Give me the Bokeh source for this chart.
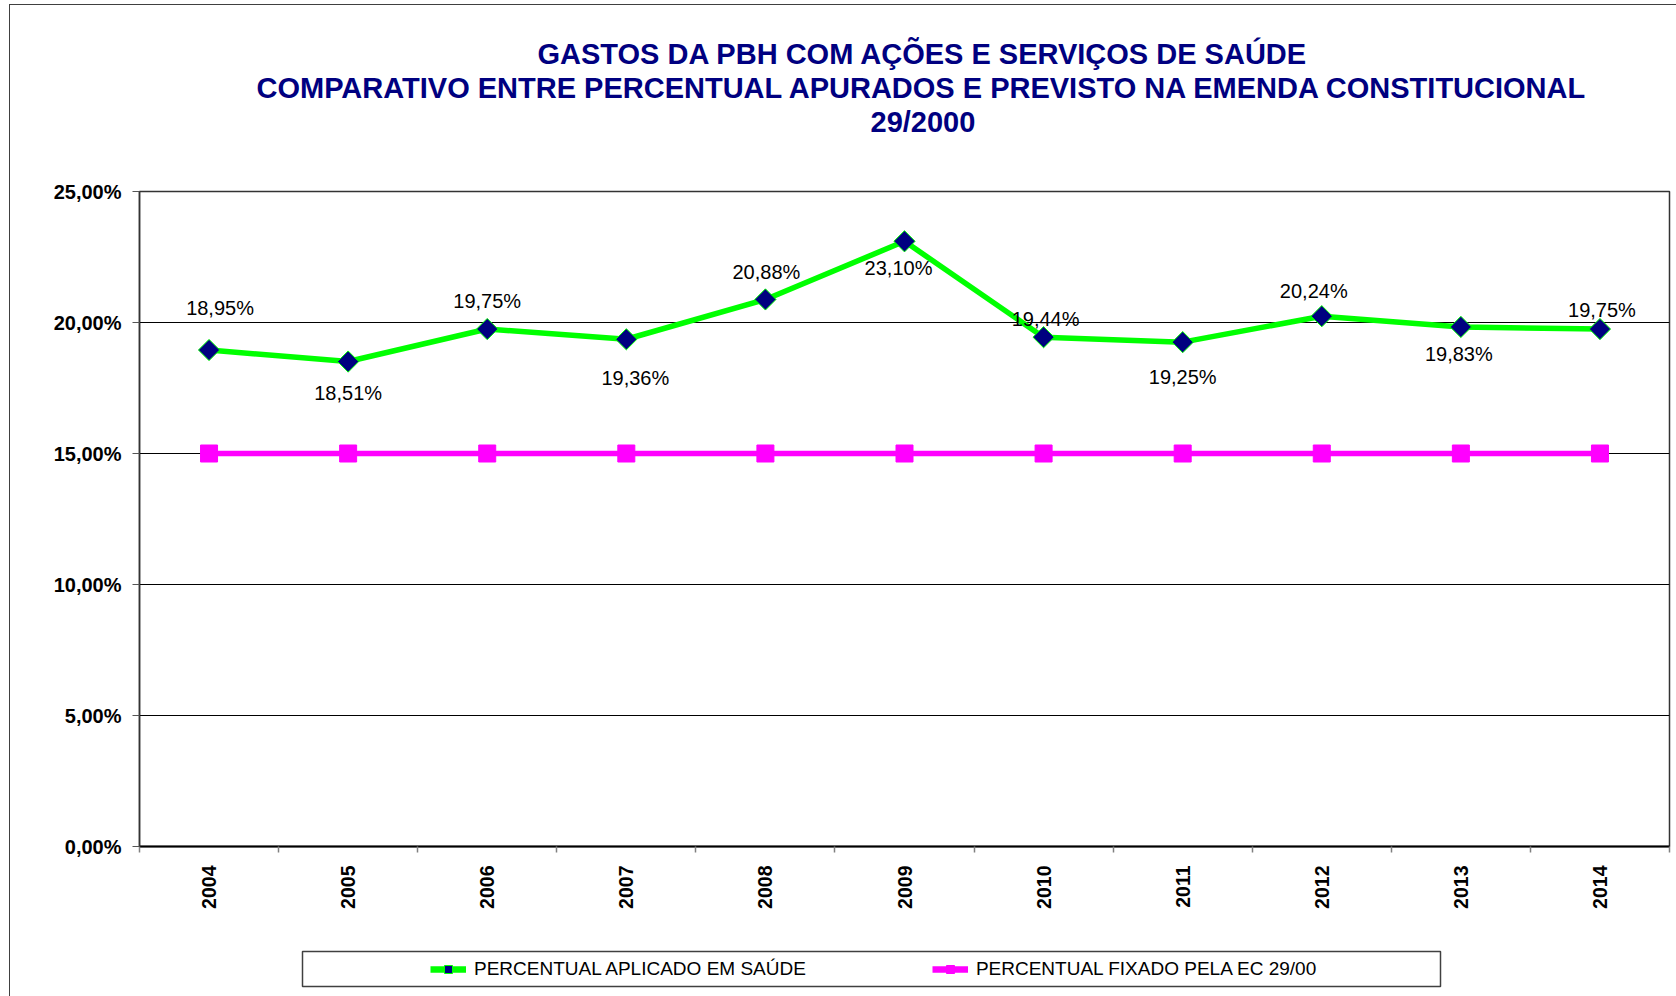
import math
from bokeh.plotting import figure
from bokeh.layouts import column
from bokeh.models import (Range1d, FixedTicker, ColumnDataSource, LabelSet, Legend,
                          LegendItem, Title)
from bokeh.core.properties import value
from bokeh.embed import file_html
from bokeh.resources import INLINE

# ---------------- data ----------------
years = ["2004", "2005", "2006", "2007", "2008", "2009", "2010", "2011", "2012", "2013", "2014"]
aplicado = [18.95, 18.51, 19.75, 19.36, 20.88, 23.10, 19.44, 19.25, 20.24, 19.83, 19.75]
fixado = [15.0, 15.0, 15.0, 15.0, 15.0, 15.0, 15.0, 15.0, 15.0, 15.0, 15.0]
y_ticks = [0, 5, 10, 15, 20, 25]
y_tick_labels = ["0,00%", "5,00%", "10,00%", "15,00%", "20,00%", "25,00%"]
series_names = ["PERCENTUAL APLICADO EM SAÚDE", "PERCENTUAL FIXADO PELA EC 29/00"]
title_lines = [
    "GASTOS DA PBH COM AÇÕES E SERVIÇOS DE SAÚDE",
    "COMPARATIVO ENTRE PERCENTUAL APURADOS E PREVISTO NA EMENDA CONSTITUCIONAL",
    "29/2000",
]

# label placement (pixels, style only)
label_dx = [11, 0, 0, 9, 1, -6, 2, 0, -8, -2, 2]
label_dy = [42, -31, 28, -39, 27, -27, 18, -35, 25, -27, 19]
title_offsets = [398, 117, 731]

FONT = "Liberation Sans"
NAVY = "#000080"
GREEN = "#00FF00"
MAGENTA = "#FF00FF"

# chart-area border sits at page x=10, y=5; everything inside is shifted by it
OX, OY = 10, 5
W = 1676 - OX
H_MAIN = 940 - OY
H_LEG = 56
FRAME_L, FRAME_R = 139, 1669          # page coordinates of the plot frame
FRAME_T, FRAME_B = 191, 846

n = len(years)
xs = [i + 0.5 for i in range(n)]

p = figure(width=W, height=H_MAIN,
           x_range=Range1d(0, n), y_range=Range1d(0, 25),
           output_backend="svg", toolbar_location=None, title=None,
           min_border_left=FRAME_L - OX, min_border_right=1676 - FRAME_R,
           min_border_top=FRAME_T - OY, min_border_bottom=940 - FRAME_B,
           background_fill_color="white", border_fill_color="white")

# ---- titles (closest to frame first) ----
p.add_layout(Title(text="\u00a0", text_font=FONT, text_font_size="28px",
                   text_color="white", standoff=21), "above")
for line, off in reversed(list(zip(title_lines, title_offsets))):
    p.add_layout(Title(text=line, align="left", offset=off, text_font=FONT,
                       text_font_size="29px", text_font_style="bold",
                       text_color=NAVY, standoff=0), "above")

# ---- axes ----
p.outline_line_color = "#333333"
p.outline_line_width = 1.5

p.yaxis.ticker = FixedTicker(ticks=y_ticks)
p.yaxis.major_label_overrides = {t: l for t, l in zip(y_ticks, y_tick_labels)}
p.yaxis.major_label_text_font = FONT
p.yaxis.major_label_text_font_style = "bold"
p.yaxis.major_label_text_font_size = "20px"
p.yaxis.major_label_text_color = "black"
p.yaxis.axis_line_color = "#333333"
p.yaxis.axis_line_width = 1.5
p.yaxis.major_tick_out = 7
p.yaxis.major_tick_in = 0
p.yaxis.major_tick_line_color = "#555555"
p.yaxis.minor_tick_line_color = None
p.yaxis.major_label_standoff = 11

p.xaxis.ticker = FixedTicker(ticks=xs, minor_ticks=list(range(n + 1)))
p.xaxis.major_label_overrides = {x: y for x, y in zip(xs, years)}
p.xaxis.major_label_orientation = math.pi / 2
p.xaxis.major_label_text_font = FONT
p.xaxis.major_label_text_font_style = "bold"
p.xaxis.major_label_text_font_size = "19.5px"
p.xaxis.major_label_text_color = "black"
p.xaxis.axis_line_color = "black"
p.xaxis.axis_line_width = 2
p.xaxis.major_tick_out = 0
p.xaxis.major_tick_in = 0
p.xaxis.minor_tick_out = 6
p.xaxis.minor_tick_in = 0
p.xaxis.minor_tick_line_color = "#808080"
p.xaxis.minor_tick_line_width = 1.5
p.xaxis.major_label_standoff = 13

p.xgrid.visible = False
p.ygrid.grid_line_color = "black"
p.ygrid.grid_line_width = 1

# ---- series ----
src = ColumnDataSource(dict(
    x=xs, y=aplicado,
    lbl=[f"{v:.2f}".replace(".", ",") + "%" for v in aplicado],
    dx=label_dx, dy=label_dy))
fsrc = ColumnDataSource(dict(x=xs, y=fixado))

green_line = dict(line_color=GREEN, line_width=5.5)
green_mark = dict(marker="square", size=15, angle=math.pi / 4,
                  fill_color=NAVY, line_color=GREEN, line_width=1)
mag_line = dict(line_color=MAGENTA, line_width=5.5)
mag_mark = dict(marker="square", size=17, fill_color=MAGENTA, line_color=MAGENTA)

p.line("x", "y", source=fsrc, **mag_line)
p.scatter("x", "y", source=fsrc, **mag_mark)
p.line("x", "y", source=src, **green_line)
p.scatter("x", "y", source=src, **green_mark)

labels = LabelSet(x="x", y="y", text="lbl", x_offset="dx", y_offset="dy", source=src,
                  text_align="center", text_baseline="middle",
                  text_font=value(FONT), text_font_size="20px", text_color="black")
p.add_layout(labels)

# ---------------- legend strip (page pixel coordinates) ----------------
q = figure(width=W, height=H_LEG,
           x_range=Range1d(FRAME_L, FRAME_R), y_range=Range1d(940 + H_LEG, 940),
           output_backend="svg", toolbar_location=None, title=None,
           x_axis_location=None, y_axis_location=None,
           min_border_left=FRAME_L - OX, min_border_right=1676 - FRAME_R,
           min_border_top=0, min_border_bottom=0,
           background_fill_color="white", border_fill_color="white")
q.outline_line_color = None
q.xgrid.visible = False
q.ygrid.visible = False

# legend frame box
q.quad(left=[302], right=[1440], top=[951], bottom=[986],
       fill_color="white", line_color="#404040", line_width=1.5)

# proxy renderers for the legend swatches (kept outside the visible range)
off = dict(x=[-50, -40], y=[-50, -50])
lg1 = q.line(off["x"], off["y"], line_color=GREEN, line_width=6.5)
mk1 = q.scatter(off["x"], off["y"], **green_mark)
lg2 = q.line(off["x"], off["y"], line_color=MAGENTA, line_width=6.5)
mk2 = q.scatter(off["x"], off["y"], **mag_mark)

legend = Legend(items=[LegendItem(label=series_names[0], renderers=[lg1, mk1]),
                       LegendItem(label=series_names[1], renderers=[lg2, mk2])],
                orientation="horizontal", location=(430 - FRAME_L, 16),
                padding=0, spacing=126, margin=0,
                glyph_width=36, glyph_height=20, label_standoff=8,
                label_text_font=FONT, label_text_font_size="19px",
                label_text_color="black",
                border_line_color=None, background_fill_alpha=0)
q.add_layout(legend)

layout = column(p, q, spacing=0,
                styles={"margin-left": f"{OX - 1}px", "margin-top": f"{OY - 1}px",
                        "border-left": "1px solid #404040",
                        "border-top": "1px solid #404040"})
open("out.html", "w").write(file_html(layout, INLINE))
